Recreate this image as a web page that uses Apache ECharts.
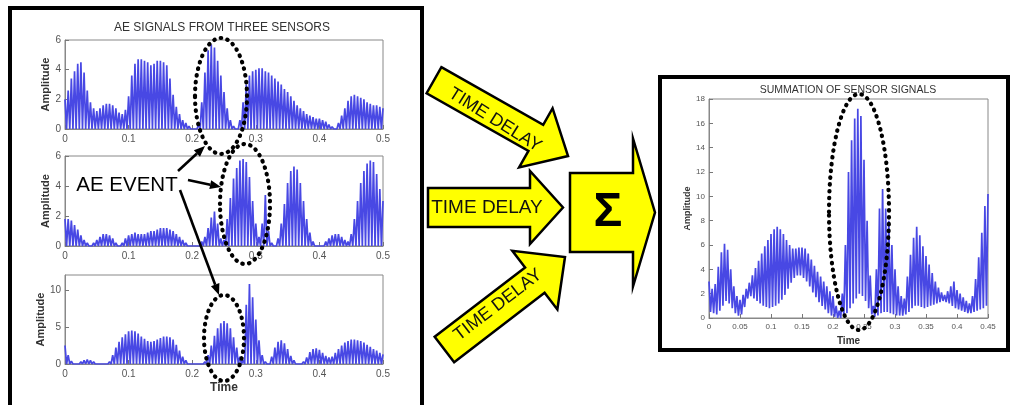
<!DOCTYPE html>
<html><head><meta charset="utf-8">
<script src="https://cdn.jsdelivr.net/npm/echarts@6/dist/echarts.min.js"></script>
<style>html,body{margin:0;padding:0;background:#fff}#c{width:1012px;height:405px}</style>
</head><body><div id="c"></div>
<script>
// ---------- DATA (envelope peaks, one value every 0.005 s) ----------
const STEP = 0.005;
const sensor1Peaks = [2.0,2.6,3.4,3.9,4.4,4.5,3.8,2.6,1.8,1.4,1.2,1.4,1.6,1.7,1.7,1.6,1.4,1.1,1.0,1.3,
  2.2,3.6,4.4,4.7,4.7,4.6,4.5,4.3,4.4,4.6,4.6,4.5,4.3,3.4,2.3,1.5,1.0,0.6,0.4,0.2,
  0.1,0.05,0.3,1.8,3.8,5.3,5.7,5.5,4.6,3.6,2.5,1.4,0.6,0.2,0.1,0.6,1.8,3.0,3.6,3.9,
  4.0,4.1,4.1,3.9,3.8,3.6,3.4,3.2,3.0,2.7,2.5,2.2,1.9,1.6,1.4,1.2,1.0,0.9,0.8,0.7,
  0.7,0.6,0.5,0.3,0.15,0.1,0.4,0.9,1.4,1.9,2.2,2.3,2.2,2.1,2.0,1.8,1.7,1.6,1.6,1.5,1.4];
const sensor2Peaks = [1.8,1.8,1.7,1.4,1.1,0.7,0.4,0.2,0.1,0.2,0.4,0.6,0.8,0.8,0.7,0.5,0.2,0.1,0.2,0.5,
  0.7,0.8,0.9,0.8,0.8,0.8,0.9,1.0,1.0,1.1,1.2,1.2,1.2,1.1,1.0,0.8,0.6,0.4,0.2,0.1,
  0.05,0.05,0.1,0.3,0.6,1.2,1.9,2.3,1.5,0.5,0.4,1.8,3.2,4.5,5.2,5.7,5.8,5.6,4.6,3.0,
  1.5,0.6,1.5,3.4,1.0,0.2,0.1,0.5,1.5,2.8,4.2,5.0,5.3,5.1,4.2,3.0,1.8,0.9,0.3,0.1,
  0.05,0.1,0.3,0.5,0.7,0.8,0.8,0.6,0.4,0.3,0.8,1.8,3.0,4.2,5.0,5.5,5.7,5.6,4.8,3.8,3.0];
const sensor3Peaks = [2.5,1.2,0.4,0.2,0.1,0.3,0.5,0.6,0.5,0.3,0.2,0.1,0.05,0.05,0.3,1.2,2.2,3.0,3.6,4.0,
  4.4,4.5,4.4,4.1,3.7,3.4,3.1,3.0,3.1,3.3,3.5,3.7,3.7,3.6,3.3,2.6,1.8,1.0,0.5,0.2,
  0.1,0.1,0.1,0.2,0.3,1.2,2.5,3.8,4.8,5.5,5.8,5.5,4.8,3.6,2.2,1.0,0.5,8.0,10.8,9.0,
  6.0,3.2,1.2,0.3,0.2,1.0,2.2,3.0,3.2,2.8,2.0,1.1,0.5,0.2,0.1,0.3,0.9,1.6,2.0,2.1,
  1.9,1.5,1.1,0.9,1.0,1.5,2.0,2.5,2.9,3.1,3.3,3.3,3.2,3.1,2.9,2.6,2.3,2.0,1.8,1.5,1.3];
const sumPeaks = [3.0,2.4,2.8,4.2,5.4,6.1,5.6,4.0,2.6,1.8,1.5,1.9,2.4,2.9,3.5,4.1,4.7,5.3,5.9,6.4,
  6.9,7.3,7.5,7.3,6.9,6.4,6.0,5.7,5.7,5.8,5.8,5.7,5.3,4.8,4.3,3.8,3.4,3.0,2.6,2.2,
  1.8,1.0,0.6,2.0,6.0,12.0,14.6,16.4,17.2,16.6,13.0,8.0,3.5,1.0,4.0,9.0,10.6,9.0,8.0,6.0,
  4.0,2.6,1.8,1.6,3.4,5.2,6.6,7.5,6.8,5.9,5.1,4.4,3.7,3.0,2.5,2.1,1.9,2.2,2.6,3.0,
  2.3,2.0,1.7,1.4,1.2,1.8,3.2,5.0,7.0,9.2,10.2];
const sumLows = [0.5,0.4,0.3,0.6,1.0,1.4,1.2,0.8,0.4,0.2,0.3,0.9,1.6,1.8,1.6,1.4,1.2,1.0,0.9,0.8,
  0.9,1.0,1.2,1.5,1.9,2.4,2.9,3.3,3.5,3.5,3.3,3.0,2.6,2.1,1.7,1.3,1.0,0.7,0.4,0.2,
  0.1,0.0,0.0,0.2,0.4,0.8,1.2,1.6,2.0,1.8,1.4,0.8,0.3,0.1,0.2,0.4,0.5,0.5,0.4,0.3,
  0.2,0.2,0.2,0.3,0.5,0.8,1.0,1.0,0.9,0.8,0.9,1.0,1.1,1.2,1.3,1.4,1.3,1.2,1.0,0.8,
  0.7,0.6,0.5,0.4,0.4,0.5,0.6,0.7,0.8,1.0,1.0];
const leftTitle = 'AE SIGNALS FROM THREE SENSORS';
const rightTitle = 'SUMMATION OF SENSOR SIGNALS';

// ---------- helpers ----------
function zigzag(peaks, lows) {
  const out = [];
  peaks.forEach((p, i) => {
    const t = +(i * STEP).toFixed(4);
    out.push([t, p]);
    if (i < peaks.length - 1) out.push([+(t + STEP / 2).toFixed(4), lows ? lows[i] : 0]);
  });
  return out;
}
function arrowPts(tx, ty, angDeg, L, hl, hh, sh) {
  const a = angDeg * Math.PI / 180, ux = Math.cos(a), uy = Math.sin(a), nx = -uy, ny = ux;
  const loc = [[0,-sh],[L-hl,-sh],[L-hl,-hh],[L,0],[L-hl,hh],[L-hl,sh],[0,sh]];
  return loc.map(([x, y]) => [tx + x*ux + y*nx, ty + x*uy + y*ny]);
}
function lineArrow(x1, y1, x2, y2) {
  const dx = x2-x1, dy = y2-y1, d = Math.hypot(dx, dy), ux = dx/d, uy = dy/d;
  const hl = 11, hw = 4.5, bx = x2-ux*hl, by = y2-uy*hl;
  return [
    {type:'polyline', z:120, shape:{points:[[x1,y1],[bx,by]]}, style:{stroke:'#000', lineWidth:2.6}},
    {type:'polygon', z:120, shape:{points:[[x2,y2],[bx-uy*hw,by+ux*hw],[bx+uy*hw,by-ux*hw]]}, style:{fill:'#000'}}
  ];
}
const FONT = '"Liberation Sans", Arial, sans-serif';
const BLUE = '#4848e4';
const yellowArrow = {fill:'#ffff00', stroke:'#000', lineWidth:2.5, lineJoin:'miter'};
const dotStyle = {fill:'transparent', stroke:'#000', lineWidth:4.2, lineDash:[0.5,6.3], lineCap:'round'};

function xAx(gi, max, interval, fs, name, nameGap) {
  return {gridIndex:gi, type:'value', min:0, max:max, interval:interval,
    axisLine:{show:true, lineStyle:{color:'#888', width:1}},
    axisTick:{inside:true, length:4, lineStyle:{color:'#777'}},
    axisLabel:{color:'#555', fontSize:fs, margin:5, fontFamily:FONT},
    splitLine:{show:false},
    name:name || '', nameLocation:'middle', nameGap:nameGap || 0,
    nameTextStyle:{color:'#333', fontSize:fs+2, fontWeight:'bold', fontFamily:FONT}};
}
function yAx(gi, max, interval, fs, nameGap, nfs) {
  return {gridIndex:gi, type:'value', min:0, max:max, interval:interval,
    axisLine:{show:true, lineStyle:{color:'#888', width:1}},
    axisTick:{inside:true, length:4, lineStyle:{color:'#777'}},
    axisLabel:{color:'#555', fontSize:fs, margin:4, fontFamily:FONT, showMaxLabel: max % interval === 0},
    splitLine:{show:false},
    name:'Amplitude', nameLocation:'middle', nameGap:nameGap,
    nameTextStyle:{color:'#333', fontSize:nfs, fontWeight:'bold', fontFamily:FONT}};
}
function sig(data, i) {
  return {type:'line', xAxisIndex:i, yAxisIndex:i, data:data, showSymbol:false, silent:true,
    lineStyle:{color:BLUE, width:1.7}, z:2};
}

const gridStyle = {show:true, borderColor:'#888', borderWidth:1, backgroundColor:'#fff'};
const option = {
  animation:false,
  backgroundColor:'#fff',
  grid:[
    Object.assign({left:65, top:40, width:318, height:89}, gridStyle),
    Object.assign({left:65, top:156, width:318, height:90}, gridStyle),
    Object.assign({left:65, top:275, width:318, height:89}, gridStyle),
    Object.assign({left:709, top:99, width:279, height:219}, gridStyle)
  ],
  xAxis:[
    xAx(0, 0.5, 0.1, 10), xAx(1, 0.5, 0.1, 10), xAx(2, 0.5, 0.1, 10, 'Time', 18),
    xAx(3, 0.45, 0.05, 8, 'Time', 13)
  ],
  yAxis:[
    yAx(0, 6, 2, 10, 12, 11), yAx(1, 6, 2, 10, 12, 11), yAx(2, 12, 5, 10, 18, 11), yAx(3, 18, 2, 8, 13, 9)
  ],
  series:[
    sig(zigzag(sensor1Peaks), 0), sig(zigzag(sensor2Peaks), 1), sig(zigzag(sensor3Peaks), 2),
    sig(zigzag(sumPeaks, sumLows), 3)
  ],
  graphic:[
    // frames
    {type:'rect', z:50, shape:{x:10, y:8, width:412, height:430}, style:{fill:'transparent', stroke:'#000', lineWidth:4}},
    {type:'rect', z:50, shape:{x:660, y:77, width:348, height:273}, style:{fill:'transparent', stroke:'#000', lineWidth:4}},
    // titles
    {type:'text', z:60, x:222, y:28, style:{text:leftTitle, fill:'#333', font:'12px ' + FONT, align:'center', verticalAlign:'middle'}},
    {type:'text', z:60, x:848, y:90, style:{text:rightTitle, fill:'#333', font:'10.5px ' + FONT, align:'center', verticalAlign:'middle'}},
    // yellow arrows
    {type:'polygon', z:70, shape:{points:arrowPts(428, 207.5, 0, 135, 33, 36.5, 19.5)}, style:yellowArrow},
    {type:'polygon', z:71, shape:{points:arrowPts(434, 80.2, 29.5, 154, 37, 34, 15)}, style:yellowArrow},
    {type:'polygon', z:71, shape:{points:arrowPts(444.4, 349.5, -37.5, 152, 38, 37, 16)}, style:yellowArrow},
    {type:'polygon', z:70, shape:{points:arrowPts(570, 212.5, 0, 85, 22, 74, 39.5)}, style:yellowArrow},
    {type:'text', z:80, x:487, y:208, style:{text:'TIME DELAY', fill:'#111', font:'19px ' + FONT, align:'center', verticalAlign:'middle'}},
    {type:'text', z:80, x:495, y:120, rotation:-32*Math.PI/180, style:{text:'TIME DELAY', fill:'#111', font:'18px ' + FONT, align:'center', verticalAlign:'middle'}},
    {type:'text', z:80, x:498, y:305, rotation:37.5*Math.PI/180, style:{text:'TIME DELAY', fill:'#111', font:'18px ' + FONT, align:'center', verticalAlign:'middle'}},
    {type:'text', z:80, x:608, y:213, style:{text:'Σ', fill:'#000', font:'bold 48px ' + FONT, align:'center', verticalAlign:'middle'}},
    // AE EVENT annotation
    {type:'text', z:110, x:127, y:185, style:{text:'AE EVENT', fill:'#000', font:'20.5px ' + FONT, align:'center', verticalAlign:'middle'}},
    ...lineArrow(178, 171, 205, 146),
    ...lineArrow(188, 180, 221, 187),
    ...lineArrow(180, 190, 219, 295),
    // dotted ellipses
    {type:'ellipse', z:100, shape:{cx:221, cy:96, rx:26, ry:58}, style:dotStyle},
    {type:'ellipse', z:100, shape:{cx:245, cy:204, rx:25, ry:60}, style:dotStyle},
    {type:'ellipse', z:100, shape:{cx:224, cy:338, rx:20, ry:43}, style:dotStyle},
    {type:'ellipse', z:100, shape:{cx:859, cy:212, rx:30, ry:118}, style:dotStyle}
  ]
};
const chart = echarts.init(document.getElementById('c'), null, {renderer:'canvas'});
chart.setOption(option);
</script>
</body></html>
